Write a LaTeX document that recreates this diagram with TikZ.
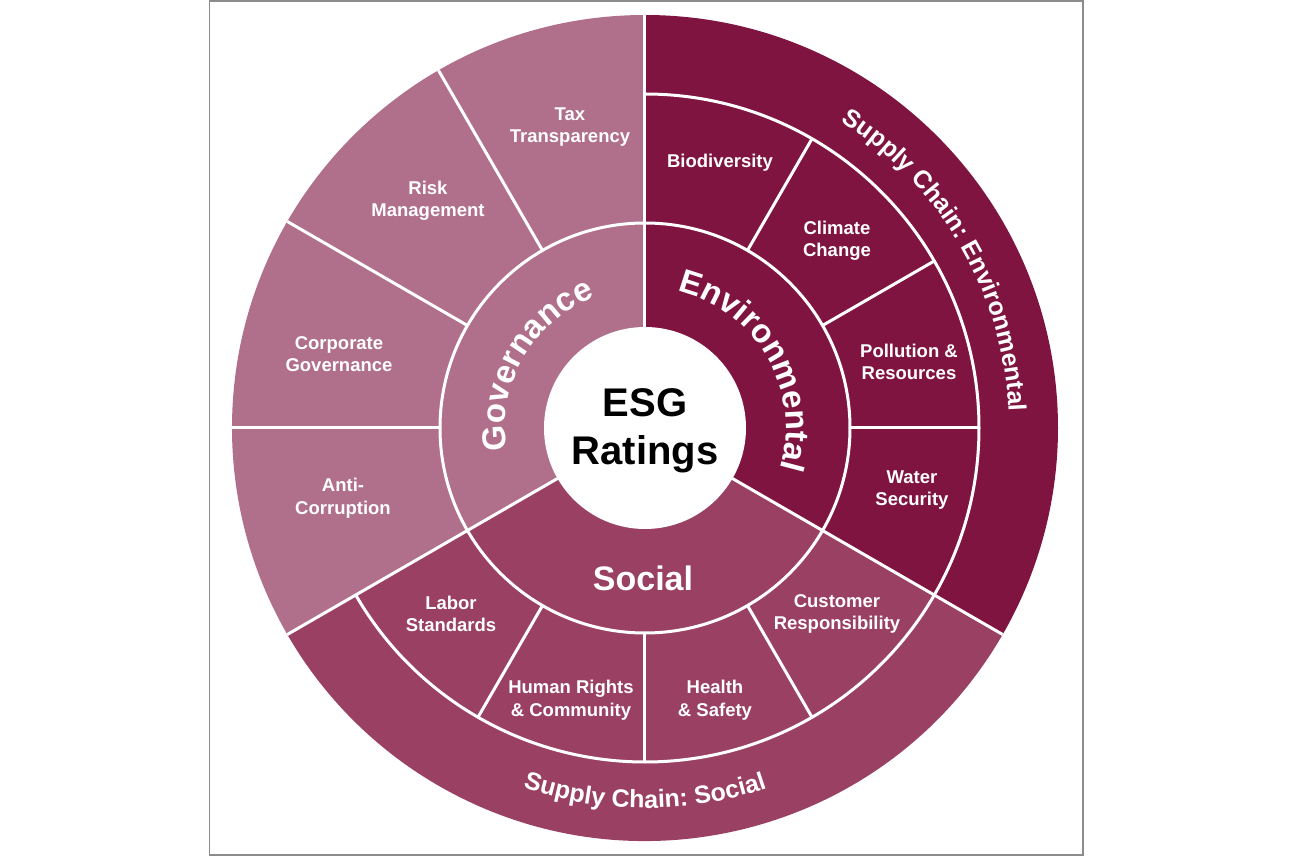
\documentclass[tikz,border=0pt]{standalone}
\usepackage{fontspec}
\setmainfont{Liberation Sans}
\usetikzlibrary{decorations.text}
\definecolor{govcol}{HTML}{B06F8A}
\definecolor{envcol}{HTML}{7F1440}
\definecolor{soccol}{HTML}{9A4063}
\definecolor{framecol}{HTML}{8C8C8C}
\newcommand\sublabfont{\fontsize{18.5}{22.5}\selectfont\bfseries}
\newcommand\mainlabfont{\fontsize{33}{33}\selectfont\bfseries}
\newcommand\chainlabfont{\fontsize{25}{25}\selectfont\bfseries}
\begin{document}
\begin{tikzpicture}[x=1pt,y=1pt,
  sub/.style={text=white, font=\sublabfont, align=center, inner sep=0pt},
  divider/.style={draw=white, line width=3pt},
  curvedmain/.style={decorate, decoration={text along path, text={|\mainlabfont|#1}, text align=center, text color=white}},
  curvedchain/.style={decorate, decoration={text along path, text={|\chainlabfont|#1}, text align=center, text color=white}},
]
\useasboundingbox (-645,-428) rectangle (648,428);
\draw[framecol, line width=1.5pt] (-435.5,-427) rectangle (438,427);

% sectors
\fill[govcol] (0,0) -- (90:413) arc[start angle=90, end angle=210, radius=413] -- cycle;
\fill[envcol] (0,0) -- (90:413) arc[start angle=90, end angle=-30, radius=413] -- cycle;
\fill[soccol] (0,0) -- (-30:413) arc[start angle=-30, end angle=-150, radius=413] -- cycle;
\fill[white] (0,0) circle (101);

% white dividers
\draw[divider] (0,0) circle (205);
\draw[divider] (90:334) arc[start angle=90, end angle=-150, radius=334];
\foreach \a in {90,210,-30} \draw[divider] (\a:101) -- (\a:413);
\foreach \a in {120,150,180} \draw[divider] (\a:205) -- (\a:413);
\foreach \a in {60,30,0,-60,-90,-120} \draw[divider] (\a:205) -- (\a:334);

% centre
\node[font=\fontsize{40}{48}\selectfont\bfseries, align=center, inner sep=0pt] (esg) at (0,-3) {ESG\\Ratings};

% main labels
\path[curvedmain={Governance}] (210:140) arc[start angle=210, end angle=90, radius=140];
\path[curvedmain={Environmental}] (90:141) arc[start angle=90, end angle=-30, radius=141];
\node[text=white, font=\fontsize{34}{34}\selectfont\bfseries, inner sep=0pt] (social) at (-2,-150) {Social};

% supply chain
\path[curvedchain={Supply Chain: Environmental}] (90:364) arc[start angle=90, end angle=-30, radius=364];
\path[curvedchain={Supply Chain: Social}] (-150:380) arc[start angle=-150, end angle=-30, radius=380];

% sub labels
\node[sub] (tax) at (-75,301) {Tax\\Transparency};
\node[sub] (risk) at (-217,227) {Risk\\Management};
\node[sub] (corp) at (-306,74) {Corporate\\Governance};
\node[sub] (anti) at (-302,-70) {Anti-\\Corruption};
\node[sub] (bio) at (75,265) {Biodiversity};
\node[sub] (clim) at (192,187) {Climate\\Change};
\node[sub] (poll) at (264,66) {Pollution \&\\Resources};
\node[sub] (water) at (267,-62) {Water\\Security};
\node[sub] (cust) at (192,-186) {Customer\\Responsibility};
\node[sub] (health) at (70,-272) {Health\\\& Safety};
\node[sub] (human) at (-74,-272) {Human Rights\\\& Community};
\node[sub] (labor) at (-194,-186) {Labor\\Standards};
\end{tikzpicture}
\end{document}
